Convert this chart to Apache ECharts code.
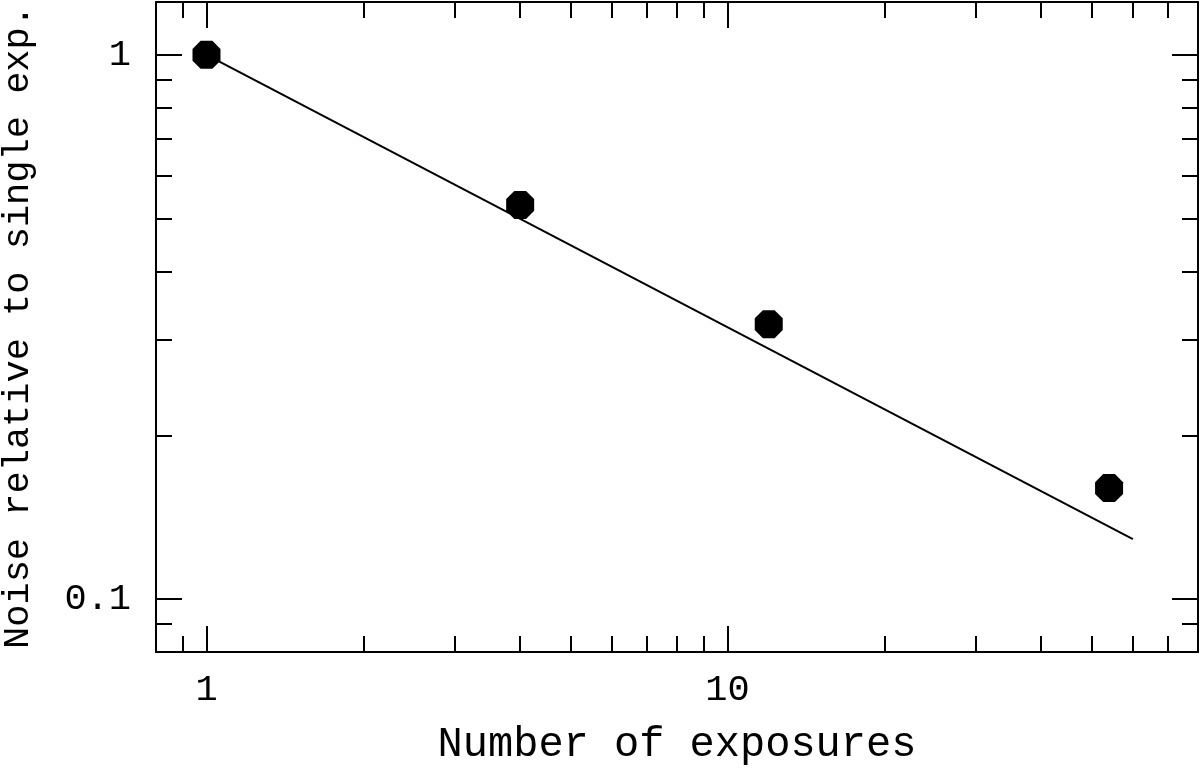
<!DOCTYPE html>
<html>
<head>
<meta charset="utf-8">
<script src="https://cdn.jsdelivr.net/npm/echarts@6/dist/echarts.min.js"></script>
<style>
html,body{margin:0;padding:0;background:#fff;}
#chart{width:1200px;height:768px;}
</style>
</head>
<body>
<div id="chart"></div>
<script>
// Data
const exposures = [1, 4, 12, 54];
const noise = [1, 0.53, 0.32, 0.16];
const fitX = [1, 60];
const fitY = [1, 0.129];
// Axis ticks
const xMajor = [1, 10];
const xMinor = [0.8, 0.9, 2, 3, 4, 5, 6, 7, 8, 9, 20, 30, 40, 50, 60, 70, 80];
const yMajor = [0.1, 1];
const yMinor = [0.08, 0.09, 0.2, 0.3, 0.4, 0.5, 0.6, 0.7, 0.8, 0.9];
const xLabels = ['1', '10'];
const yLabels = ['0.1', '1'];
const xTitle = 'Number of exposures';
const yTitle = 'Noise relative to single exp.';

const FONT = 'Liberation Mono';
const black = '#000';
const xMin = 0.8, xMax = 80, yMin = 0.08, yMax = 1.25;

function axisX(pos, ticks, len, showLine, labels, name) {
  return {
    type: 'log', logBase: 10, position: pos, min: xMin, max: xMax,
    axisLine: {show: showLine, onZero: false, lineStyle: {color: black, width: 2}},
    axisTick: {show: true, inside: true, length: len, customValues: ticks, lineStyle: {color: black, width: 2}},
    axisLabel: labels ? {show: true, customValues: xMajor, margin: 20, color: black, fontFamily: FONT, fontSize: 37,
      formatter: v => { const i = xMajor.findIndex(m => Math.abs(m - v) < 1e-9); return i >= 0 ? xLabels[i] : String(v); }} : {show: false},
    splitLine: {show: false}, minorTick: {show: false},
    name: name || '', nameLocation: 'middle', nameGap: 72,
    nameTextStyle: {color: black, fontFamily: FONT, fontSize: 42}
  };
}
function axisY(pos, ticks, len, showLine, labels, name) {
  return {
    type: 'log', logBase: 10, position: pos, min: yMin, max: yMax,
    axisLine: {show: showLine, onZero: false, lineStyle: {color: black, width: 2}},
    axisTick: {show: true, inside: true, length: len, customValues: ticks, lineStyle: {color: black, width: 2}},
    axisLabel: labels ? {show: true, customValues: yMajor, margin: 25, color: black, fontFamily: FONT, fontSize: 37,
      formatter: v => { const i = yMajor.findIndex(m => Math.abs(m - v) < 1e-9); return i >= 0 ? yLabels[i] : String(v); }} : {show: false},
    splitLine: {show: false}, minorTick: {show: false},
    name: name || '', nameLocation: 'middle', nameGap: 119, nameRotate: 90,
    nameTextStyle: {color: black, fontFamily: FONT, fontSize: 37}
  };
}

const chart = echarts.init(document.getElementById('chart'), null, {renderer: 'canvas'});
chart.setOption({
  animation: false,
  backgroundColor: '#fff',
  grid: {left: 156, right: 2, top: 2, bottom: 116, containLabel: false, outerBoundsMode: 'none'},
  xAxis: [
    axisX('bottom', xMajor, 26, true, true, xTitle),
    axisX('bottom', xMinor, 16, false, false),
    axisX('top', xMajor, 26, true, false),
    axisX('top', xMinor, 16, false, false)
  ],
  yAxis: [
    axisY('left', yMajor, 26, true, true, yTitle),
    axisY('left', yMinor, 16, false, false),
    axisY('right', yMajor, 26, true, false),
    axisY('right', yMinor, 16, false, false)
  ],
  series: [
    {
      type: 'line', xAxisIndex: 0, yAxisIndex: 0,
      data: fitX.map((x, i) => [x, fitY[i]]),
      symbol: 'none', lineStyle: {color: black, width: 2}, z: 2
    },
    {
      type: 'scatter', xAxisIndex: 0, yAxisIndex: 0,
      data: exposures.map((x, i) => [x, noise[i]]),
      symbol: 'path://M0.29,0 L0.71,0 L1,0.29 L1,0.71 L0.71,1 L0.29,1 L0,0.71 L0,0.29 Z',
      symbolSize: 28, itemStyle: {color: black, opacity: 1}, z: 3
    }
  ]
});
</script>
</body>
</html>
